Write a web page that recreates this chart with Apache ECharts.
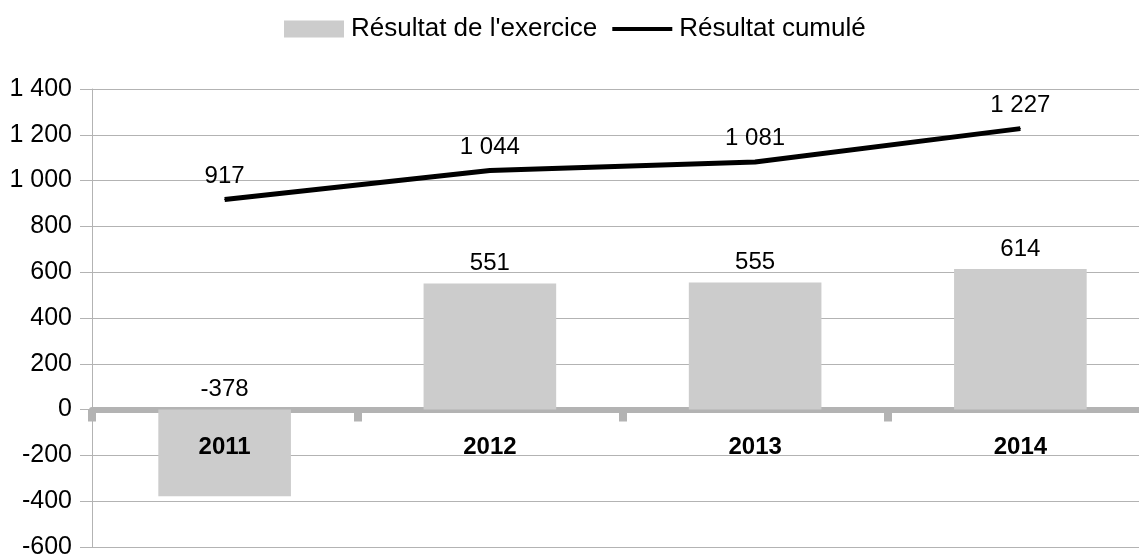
<!DOCTYPE html>
<html><head><meta charset="utf-8">
<script src="https://cdn.jsdelivr.net/npm/echarts@6/dist/echarts.min.js"></script>
<style>html,body{margin:0;padding:0;background:#fff}#c{width:1139px;height:558px}</style>
</head><body><div id="c"></div>
<script>
const categories = ['2011', '2012', '2013', '2014'];
const resultatExercice = [-378, 551, 555, 614];
const resultatCumule = [917, 1044, 1081, 1227];
const seriesNames = ["Résultat de l'exercice", 'Résultat cumulé'];

function fmt(v){
  const s = Math.abs(v).toString().replace(/\B(?=(\d{3})+(?!\d))/g, ' ');
  return (v < 0 ? '-' : '') + s;
}
const FONT = '"Liberation Sans", Arial, sans-serif';
const chart = echarts.init(document.getElementById('c'), null, {renderer: 'canvas'});
chart.setOption({
  animation: false,
  textStyle: {fontFamily: FONT, color: '#000'},
  legend: {
    top: 11, left: 279, itemWidth: 60, itemHeight: 17, itemGap: 15,
    symbolKeepAspect: true,
    textStyle: {fontSize: 26, fontFamily: FONT, color: '#000', padding: [0,0,0,2]},
    data: [
      {name: seriesNames[0], icon: 'rect'},
      {name: seriesNames[1], icon: 'path://M0,0H60V4H0Z'}
    ]
  },
  grid: {left: 92, right: -14, top: 89, bottom: 11, containLabel: false, outerBoundsMode: 'none'},
  xAxis: [
    {
      type: 'category', data: categories,
      axisLine: {onZero: true, lineStyle: {color: '#b3b3b3', width: 6}},
      axisTick: {show: true, length: 12, lineStyle: {color: '#b3b3b3', width: 8}},
      axisLabel: {show: false}
    },
    {
      type: 'category', data: categories, position: 'bottom', z: 5,
      axisLine: {show: false, onZero: false},
      axisTick: {show: false},
      splitLine: {show: false},
      axisLabel: {show: true, interval: 0, hideOverlap: false, fontSize: 24, fontWeight: 'bold', color: '#000', fontFamily: FONT, margin: -112}
    }
  ],
  yAxis: {
    type: 'value', min: -600, max: 1400, interval: 200,
    axisLine: {show: true, lineStyle: {color: '#b3b3b3', width: 1}},
    axisTick: {show: true, length: 12, lineStyle: {color: '#b3b3b3'}},
    axisLabel: {fontSize: 25, color: '#000', fontFamily: FONT, margin: 20, formatter: fmt},
    splitLine: {lineStyle: {color: '#b3b3b3', width: 1}}
  },
  series: [
    {
      name: seriesNames[0], type: 'bar', data: resultatExercice, barWidth: '50%',
      itemStyle: {color: '#cccccc'}, z: 2,
      label: {show: true, position: 'top', fontSize: 24, color: '#000', fontFamily: FONT, distance: 8, formatter: p => fmt(p.value)}
    },
    {
      name: seriesNames[1], type: 'line', data: resultatCumule,
      symbol: 'circle', symbolSize: 1, showSymbol: true,
      lineStyle: {color: '#000', width: 5}, itemStyle: {color: '#000'}, z: 6,
      label: {show: true, position: 'top', fontSize: 24, color: '#000', fontFamily: FONT, distance: 11, formatter: p => fmt(p.value)}
    }
  ]
});
</script></body></html>
